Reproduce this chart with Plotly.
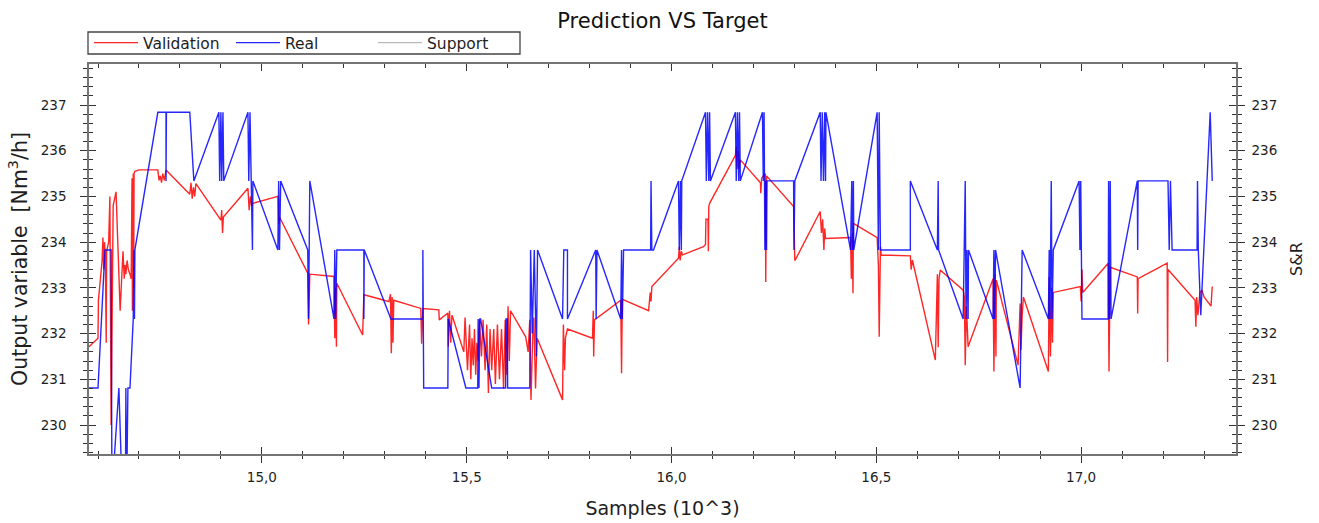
import plotly.graph_objects as go

# ---------------- data (Samples in 10^3) ----------------
real_x = [14.578, 14.600, 14.617, 14.632, 14.634, 14.651, 14.659, 14.667, 14.668, 14.670, 14.673, 14.678,
          14.686, 14.688, 14.689, 14.690, 14.746, 14.766, 14.766, 14.767, 14.824, 14.834, 14.895, 14.897,
          14.900, 14.902, 14.905, 14.907, 14.966, 14.968, 14.971, 14.974, 14.977, 14.978, 15.039, 15.041,
          15.043, 15.046, 15.112, 15.114, 15.117, 15.176, 15.178, 15.180, 15.183, 15.249, 15.249, 15.250,
          15.315, 15.393, 15.393, 15.394, 15.395, 15.454, 15.455, 15.498, 15.527, 15.528, 15.530, 15.532,
          15.534, 15.561, 15.595, 15.596, 15.599, 15.600, 15.654, 15.656, 15.660, 15.665, 15.670, 15.673,
          15.734, 15.737, 15.746, 15.746, 15.815, 15.816, 15.818, 15.876, 15.878, 15.880, 15.883, 15.949,
          15.950, 15.952, 15.956, 16.017, 16.019, 16.022, 16.024, 16.025, 16.083, 16.085, 16.088, 16.091,
          16.093, 16.095, 16.156, 16.158, 16.161, 16.164, 16.166, 16.168, 16.222, 16.224, 16.226, 16.228,
          16.230, 16.232, 16.233, 16.298, 16.299, 16.301, 16.363, 16.365, 16.368, 16.371, 16.374, 16.376,
          16.377, 16.437, 16.440, 16.442, 16.444, 16.445, 16.502, 16.505, 16.507, 16.510, 16.583, 16.583,
          16.649, 16.651, 16.652, 16.712, 16.717, 16.719, 16.721, 16.724, 16.725, 16.785, 16.787, 16.789,
          16.791, 16.851, 16.856, 16.920, 16.922, 16.924, 16.927, 16.929, 16.932, 16.995, 16.997, 16.999,
          17.002, 17.005, 17.066, 17.067, 17.069, 17.071, 17.073, 17.137, 17.138, 17.139, 17.212, 17.215,
          17.218, 17.222, 17.283, 17.284, 17.286, 17.292, 17.315, 17.320]
real_y = [230.81, 230.81, 233.83, 233.83, 228.50, 230.81, 228.50, 228.50, 230.81, 228.50, 230.81, 230.81,
          232.32, 233.83, 232.32, 233.83, 236.84, 236.84, 235.34, 236.84, 236.84, 235.34, 236.84, 235.34,
          236.84, 235.34, 236.84, 235.34, 236.84, 235.34, 236.84, 235.34, 233.83, 235.34, 233.83, 235.34,
          233.83, 235.34, 233.83, 232.32, 235.34, 232.32, 233.83, 232.32, 233.83, 233.83, 232.32, 233.83,
          232.32, 232.32, 233.83, 231.50, 230.81, 230.81, 232.32, 230.81, 230.81, 232.32, 230.81, 232.32,
          232.32, 230.81, 230.81, 232.32, 232.32, 230.81, 230.81, 233.83, 232.00, 233.83, 231.50, 233.83,
          232.32, 233.83, 233.83, 232.32, 233.83, 232.32, 233.83, 232.32, 233.83, 232.32, 233.83, 233.83,
          235.34, 233.83, 233.83, 235.34, 233.83, 235.34, 233.83, 235.34, 236.84, 235.34, 236.84, 235.34,
          236.84, 235.34, 236.84, 235.34, 236.84, 235.34, 236.84, 235.34, 236.84, 235.34, 236.84, 233.83,
          235.34, 233.83, 235.34, 235.34, 233.83, 235.34, 236.84, 235.34, 236.84, 235.34, 236.84, 235.34,
          236.84, 233.83, 235.34, 233.83, 235.34, 233.83, 236.84, 233.83, 236.84, 233.83, 233.83, 235.34,
          233.83, 235.34, 233.83, 232.32, 235.34, 232.32, 233.83, 232.32, 233.83, 232.32, 233.83, 232.32,
          233.83, 230.81, 233.83, 232.32, 233.83, 232.32, 235.34, 232.32, 233.83, 235.34, 233.83, 235.34,
          232.32, 232.32, 232.32, 235.34, 232.32, 235.34, 232.32, 235.34, 233.83, 235.34, 235.34, 233.83,
          235.34, 233.83, 233.83, 235.34, 233.83, 232.40, 236.84, 235.34]

val_x = [14.578, 14.600, 14.601, 14.610, 14.612, 14.614, 14.616, 14.618, 14.620, 14.621, 14.626, 14.629,
         14.632, 14.634, 14.637, 14.644, 14.654, 14.661, 14.664, 14.666, 14.668, 14.671, 14.674, 14.678,
         14.681, 14.683, 14.684, 14.686, 14.687, 14.688, 14.690, 14.700, 14.746, 14.749, 14.752, 14.755,
         14.758, 14.762, 14.766, 14.824, 14.827, 14.830, 14.833, 14.836, 14.839, 14.900, 14.902, 14.904,
         14.906, 14.966, 14.969, 14.972, 14.975, 14.978, 15.039, 15.041, 15.043, 15.112, 15.114, 15.117,
         15.176, 15.178, 15.180, 15.182, 15.183, 15.246, 15.249, 15.290, 15.310, 15.314, 15.316, 15.318,
         15.320, 15.322, 15.388, 15.390, 15.393, 15.432, 15.433, 15.454, 15.455, 15.458, 15.461, 15.464,
         15.466, 15.493, 15.496, 15.502, 15.507, 15.510, 15.513, 15.516, 15.519, 15.522, 15.525, 15.528,
         15.531, 15.536, 15.540, 15.545, 15.549, 15.553, 15.557, 15.561, 15.566, 15.570, 15.575, 15.580,
         15.585, 15.590, 15.594, 15.598, 15.601, 15.604, 15.607, 15.644, 15.650, 15.654, 15.657, 15.661,
         15.664, 15.668, 15.672, 15.734, 15.736, 15.739, 15.741, 15.746, 15.807, 15.809, 15.810, 15.812,
         15.876, 15.878, 15.880, 15.944, 15.948, 15.950, 15.952, 16.017, 16.019, 16.021, 16.024, 16.027,
         16.078, 16.083, 16.084, 16.089, 16.090, 16.091, 16.093, 16.156, 16.158, 16.160, 16.163, 16.165,
         16.168, 16.217, 16.218, 16.220, 16.229, 16.230, 16.232, 16.298, 16.299, 16.300, 16.301, 16.302,
         16.363, 16.366, 16.369, 16.372, 16.374, 16.376, 16.437, 16.439, 16.441, 16.443, 16.444, 16.502,
         16.505, 16.507, 16.510, 16.512, 16.583, 16.585, 16.588, 16.644, 16.649, 16.651, 16.653, 16.656,
         16.712, 16.715, 16.717, 16.720, 16.724, 16.785, 16.787, 16.790, 16.792, 16.793, 16.846, 16.851,
         16.853, 16.856, 16.859, 16.920, 16.922, 16.925, 16.928, 16.930, 16.932, 16.998, 17.000, 17.002,
         17.004, 17.066, 17.068, 17.070, 17.071, 17.137, 17.138, 17.139, 17.210, 17.211, 17.212, 17.278,
         17.280, 17.282, 17.285, 17.290, 17.295, 17.300, 17.317, 17.320]
val_y = [231.71, 231.90, 232.73, 233.60, 234.10, 233.40, 234.00, 233.60, 231.80, 233.80, 234.00, 235.00,
         230.00, 231.50, 234.80, 235.10, 232.50, 233.80, 233.20, 233.50, 233.30, 233.60, 233.40, 233.30,
         233.20, 235.40, 232.50, 235.50, 233.00, 235.50, 235.55, 235.58, 235.58, 235.35, 235.45, 235.30,
         235.50, 235.35, 235.58, 235.05, 235.30, 234.95, 235.20, 235.00, 235.28, 234.48, 234.70, 234.20,
         234.55, 235.18, 234.70, 235.00, 234.80, 234.85, 235.00, 234.40, 234.55, 233.32, 232.20, 233.30,
         233.25, 231.90, 233.00, 231.71, 233.10, 231.97, 232.85, 232.75, 232.70, 232.86, 231.57, 232.80,
         231.80, 232.73, 232.55, 231.78, 232.55, 232.52, 232.30, 232.45, 231.71, 232.50, 231.80, 232.40,
         232.35, 231.60, 232.35, 231.20, 232.20, 231.00, 231.90, 231.30, 232.10, 231.10, 231.80, 231.40,
         232.30, 231.50, 232.30, 231.20, 232.20, 230.70, 232.10, 231.20, 232.10, 230.90, 232.20, 231.00,
         232.10, 230.80, 232.30, 231.10, 232.60, 231.40, 232.50, 231.93, 231.60, 232.30, 230.55, 231.90,
         232.35, 230.80, 231.90, 230.55, 232.20, 231.20, 231.90, 232.10, 231.90, 232.50, 231.50, 232.30,
         232.73, 231.13, 232.75, 232.50, 232.90, 232.70, 233.03, 233.65, 233.90, 233.60, 233.80, 233.72,
         233.90, 233.95, 234.50, 234.50, 233.80, 234.78, 234.85, 235.90, 236.09, 235.60, 236.00, 235.60,
         235.80, 235.30, 235.07, 235.40, 235.50, 233.13, 235.45, 234.78, 233.80, 234.60, 233.61, 233.61,
         234.67, 234.20, 234.50, 233.83, 234.30, 234.08, 234.10, 233.20, 234.20, 232.88, 234.41, 234.10,
         233.50, 231.93, 233.90, 233.72, 233.70, 233.40, 233.61, 231.42, 233.30, 231.70, 233.20, 233.39,
         232.95, 232.80, 231.31, 232.60, 231.71, 233.20, 231.17, 233.30, 231.50, 233.17, 231.31, 232.66,
         231.64, 232.40, 232.80, 231.17, 233.24, 231.50, 233.00, 231.80, 232.90, 233.03, 232.70, 233.40,
         232.90, 233.54, 231.17, 232.80, 233.45, 233.24, 232.44, 233.20, 233.54, 231.38, 233.40, 232.73,
         232.15, 232.80, 232.40, 232.90, 232.95, 232.80, 232.60, 233.03]

x_range = [14.578, 17.378]
y_range = [229.366, 237.897]

FONT = "DejaVu Sans, Verdana, sans-serif"
TXT = "#1e1e1e"
TICKC = "#333333"
LINEC = "#747474"

fig = go.Figure()
fig.add_trace(go.Scatter(x=val_x, y=val_y, name="Validation", mode="lines",
                         line=dict(color="rgba(255,0,0,0.85)", width=1.4)))
fig.add_trace(go.Scatter(x=real_x, y=real_y, name="Real", mode="lines",
                         line=dict(color="rgba(0,0,255,0.85)", width=1.4)))
fig.add_trace(go.Scatter(x=[None], y=[None], name="Support", mode="lines", yaxis="y2",
                         line=dict(color="#b8b8b8", width=1.4)))
# helper (empty) traces so that the tick-only overlay axes are drawn
for xa, ya in [("x2", "y"), ("x3", "y"), ("x", "y3"), ("x", "y4")]:
    fig.add_trace(go.Scatter(x=[None], y=[None], xaxis=xa, yaxis=ya, showlegend=False,
                             hoverinfo="skip", mode="lines"))

xcommon = dict(range=x_range, dtick=0.5, tick0=0, showgrid=False, zeroline=False,
               tickcolor=TICKC, tickwidth=1, automargin=False)
ycommon = dict(range=y_range, dtick=1, tick0=0, showgrid=False, zeroline=False,
               tickcolor=TICKC, tickwidth=1, automargin=False)

PW = 1319 - 89 - 83
PH = 523 - 64 - 69

fig.update_layout(
    template="none",
    width=1319, height=523,
    margin=dict(l=89, r=83, t=64, b=69, pad=0),
    paper_bgcolor="white", plot_bgcolor="white",
    separators=",.",
    font=dict(family=FONT, size=13.5, color=TXT),
    title=dict(text="Prediction VS Target", x=0.5, xref="paper", xanchor="center",
               y=1 - 21 / 523, yanchor="middle", font=dict(size=21, color="#111111")),
    showlegend=True,
    legend=dict(orientation="h", x=0, xanchor="left", y=(PH + 64 - 43) / PH, yanchor="middle",
                borderwidth=0, bgcolor="rgba(0,0,0,0)",
                font=dict(size=15.5, color=TXT), entrywidth=83, entrywidthmode="pixels",
                itemwidth=44, traceorder="normal"),
    shapes=[dict(type="rect", xref="paper", yref="paper",
                 x0=(88 - 89) / PW, x1=(520 - 89) / PW,
                 y0=(PH + 64 - 54) / PH, y1=(PH + 64 - 32) / PH,
                 line=dict(color="#444444", width=1.3), fillcolor="rgba(0,0,0,0)", layer="below")],
    xaxis=dict(**xcommon, showline=True, linecolor=LINEC, linewidth=1.6, ticks="outside", ticklen=7,
               tickformat=".1f", showticklabels=True, tickfont=dict(size=13.5),
               ticklabelstandoff=3,
               minor=dict(dtick=0.1, ticks="outside", ticklen=3, tickcolor=TICKC, showgrid=False),
               title=dict(text="Samples (10^3)", standoff=18, font=dict(size=19))),
    xaxis2=dict(**xcommon, overlaying="x", side="bottom", anchor="y", ticks="inside", ticklen=7,
                showticklabels=False, showline=False,
                minor=dict(dtick=0.1, ticks="inside", ticklen=3, tickcolor=TICKC, showgrid=False)),
    xaxis3=dict(**xcommon, overlaying="x", side="top", anchor="y", ticks="inside", ticklen=7,
                showticklabels=False, showline=True, linecolor=LINEC, linewidth=1.6,
                minor=dict(dtick=0.1, ticks="inside", ticklen=4, tickcolor=TICKC, showgrid=False)),
    yaxis=dict(**ycommon, side="left", showline=True, linecolor=LINEC, linewidth=1.6, ticks="outside",
               ticklen=7, tickfont=dict(size=13.5), ticklabelstandoff=11,
               minor=dict(dtick=0.2, ticks="outside", ticklen=4, tickcolor=TICKC, showgrid=False),
               title=dict(text="Output variable&nbsp; [Nm<sup>3</sup>/h]", standoff=8,
                          font=dict(size=20.5))),
    yaxis3=dict(**ycommon, overlaying="y", side="left", anchor="x", ticks="inside", ticklen=7,
                showticklabels=False, showline=False,
                minor=dict(dtick=0.2, ticks="inside", ticklen=4, tickcolor=TICKC, showgrid=False)),
    yaxis2=dict(**ycommon, overlaying="y", side="right", anchor="x", showline=True, linecolor=LINEC,
                linewidth=1.6, ticks="outside", ticklen=7, tickfont=dict(size=13.5),
                ticklabelstandoff=4,
                minor=dict(dtick=0.2, ticks="outside", ticklen=4, tickcolor=TICKC, showgrid=False),
                title=dict(text="S&R", standoff=15, font=dict(size=16))),
    yaxis4=dict(**ycommon, overlaying="y", side="right", anchor="x", ticks="inside", ticklen=7,
                showticklabels=False, showline=False,
                minor=dict(dtick=0.2, ticks="inside", ticklen=4, tickcolor=TICKC, showgrid=False)),
)

fig.write_html("out.html", config={"displayModeBar": False},
               post_script="document.body.style.margin='0px';")
